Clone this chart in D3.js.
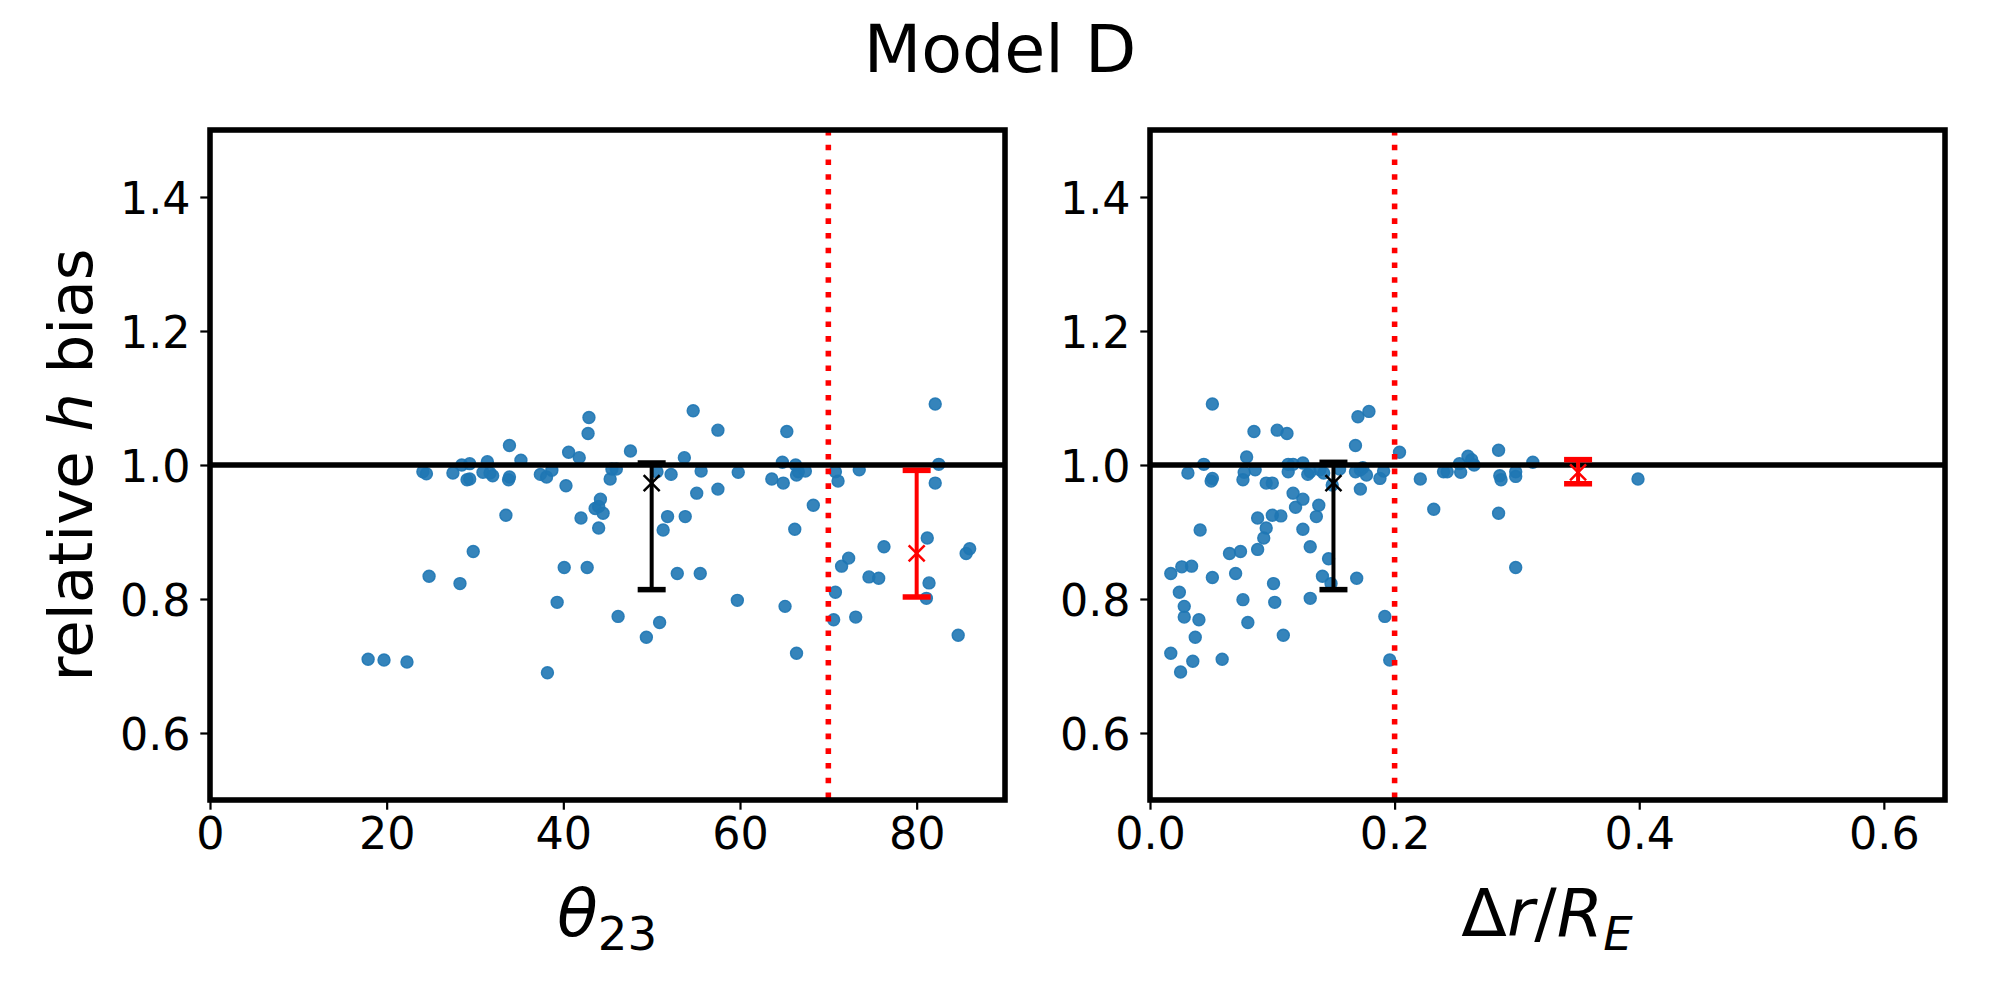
<!DOCTYPE html>
<html>
<head>
<meta charset="utf-8">
<script src="https://d3js.org/d3.v7.min.js"></script>
<style>
  body { margin: 0; background: white; }
  text { font-family: "DejaVu Sans", sans-serif; }
</style>
</head>
<body>
<script>
// Model D: relative h bias against theta23 and dr/R_E

var thetaVals = [17.9, 19.7, 22.3, 24.1, 24.5, 24.8, 27.5, 28.3, 28.5, 29.1, 29.4, 29.4, 29.8, 30.9, 31.4, 31.7, 32.0,
    33.5, 33.8, 33.9, 33.9, 35.2, 37.4, 38.1, 38.7, 38.2, 39.3, 40.1, 40.3, 40.6, 41.8, 42.0, 42.7, 42.8, 42.9,
    43.6, 44.0, 44.2, 44.5, 44.0, 45.3, 45.5, 46.0, 46.2, 47.6, 49.4, 50.9, 50.6, 51.3, 51.8, 52.2, 52.9, 53.7,
    53.8, 54.7, 55.1, 55.5, 55.6, 57.5, 57.5, 59.7, 59.8, 63.6, 64.8, 64.9, 65.1, 65.3, 66.2, 66.3, 66.4, 66.6,
    66.4, 67.4, 68.3, 70.8, 71.1, 70.8, 70.6, 71.5, 72.3, 73.1, 73.5, 74.6, 75.7, 76.3, 81.2, 81.4, 81.1, 82.1,
    82.5, 82.1, 85.6, 86.0, 84.7]
var thetaBias = [0.710, 0.709, 0.706, 0.990, 0.987, 0.834, 0.988, 0.823, 1.000, 0.978, 1.002, 0.979, 0.871, 0.989, 1.005, 0.988, 0.984,
    0.925, 0.978, 0.982, 1.029, 1.007, 0.986, 0.982, 0.992, 0.690, 0.795, 0.847, 0.969, 1.019, 1.011, 0.921, 0.847, 1.047, 1.071,
    0.935, 0.938, 0.949, 0.928, 0.906, 0.979, 0.994, 0.994, 0.774, 1.021, 0.743, 0.765, 0.990, 0.903, 0.923, 0.986, 0.838, 1.011,
    0.923, 1.081, 0.958, 0.838, 0.991, 1.052, 0.964, 0.798, 0.989, 0.979, 1.004, 0.973, 0.789, 1.050, 0.904, 1.000, 0.985, 0.990,
    0.719, 0.991, 0.940, 0.990, 0.976, 0.810, 0.769, 0.849, 0.861, 0.773, 0.993, 0.833, 0.831, 0.878, 0.891, 0.824, 0.801, 1.091,
    1.001, 0.973, 0.868, 0.875, 0.746]

var drVals = [0.051, 0.085, 0.104, 0.112, 0.170, 0.179, 0.168, 0.204, 0.285, 0.313, 0.044, 0.031, 0.051, 0.050,
    0.079, 0.077, 0.076, 0.086, 0.095, 0.100, 0.113, 0.117, 0.113, 0.125, 0.129, 0.131, 0.139, 0.142, 0.155,
    0.168, 0.172, 0.174, 0.177, 0.172, 0.188, 0.191, 0.117, 0.125, 0.119, 0.138, 0.136, 0.041, 0.088, 0.100,
    0.107, 0.095, 0.093, 0.125, 0.088, 0.065, 0.074, 0.131, 0.146, 0.017, 0.026, 0.034, 0.051, 0.070, 0.101,
    0.141, 0.148, 0.169, 0.024, 0.076, 0.102, 0.131, 0.028, 0.028, 0.040, 0.080, 0.192, 0.037, 0.109, 0.017,
    0.035, 0.059, 0.025, 0.196, 0.221, 0.232, 0.240, 0.243, 0.253, 0.254, 0.260, 0.263, 0.265, 0.285, 0.286,
    0.287, 0.299, 0.299, 0.299, 0.149, 0.399]
var drBias = [1.091, 1.050, 1.052, 1.047, 1.072, 1.080, 1.029, 1.019, 1.022, 1.004, 1.001, 0.988, 0.980, 0.976,
    1.012, 0.989, 0.978, 0.993, 0.973, 0.973, 1.001, 1.001, 0.990, 1.003, 0.986, 0.990, 0.993, 0.988, 0.994,
    0.990, 0.993, 0.996, 0.985, 0.964, 0.980, 0.991, 0.958, 0.949, 0.937, 0.940, 0.923, 0.903, 0.921, 0.925,
    0.924, 0.906, 0.891, 0.904, 0.874, 0.868, 0.871, 0.878, 0.860, 0.838, 0.848, 0.849, 0.832, 0.838, 0.823,
    0.834, 0.823, 0.831, 0.810, 0.799, 0.795, 0.801, 0.789, 0.773, 0.769, 0.765, 0.774, 0.743, 0.746, 0.719,
    0.707, 0.710, 0.691, 0.709, 0.979, 0.934, 0.990, 0.990, 1.002, 0.989, 1.013, 1.008, 1.000, 0.928, 0.984,
    0.978, 0.990, 0.983, 0.847, 0.970, 0.979]

// error bars: x position, mean, lower, upper
var thetaErr = [{x: 50, mean: 0.973, lo: 0.814, hi: 1.003, color: "black"},
                {x: 80, mean: 0.868, lo: 0.803, hi: 0.992, color: "red"}]
var drErr = [{x: 0.15, mean: 0.973, lo: 0.814, hi: 1.004, color: "black"},
             {x: 0.35, mean: 0.989, lo: 0.972, hi: 1.008, color: "red"}]

var yTicks = [0.6, 0.8, 1.0, 1.2, 1.4]
var thetaTicks = [0, 20, 40, 60, 80]
var drTicks = [0.0, 0.2, 0.4, 0.6]

var screen = {width: 2000, height: 1000}
var pt = 200 / 72

var svg = d3.select("body")
    .append("svg")
    .attr("width", screen.width)
    .attr("height", screen.height)

svg.append("text")
    .attr("x", 1000)
    .attr("y", 72)
    .attr("text-anchor", "middle")
    .style("font-size", (24 * pt) + "px")
    .text("Model D")

var yScale = d3.scaleLinear()
    .domain([0.5, 1.5])
    .range([800, 130])

var drawPanel = function(left, xDomain, xs, ys, errs, cut, ticks, fmt, id)
{
    var xScale = d3.scaleLinear()
        .domain(xDomain)
        .range([left, left + 795])

    var g = svg.append("g").attr("id", id)

    g.selectAll("circle")
        .data(xs)
        .enter()
        .append("circle")
        .attr("cx", function(d) {return xScale(d)})
        .attr("cy", function(d, i) {return yScale(ys[i])})
        .attr("r", 6)
        .attr("fill", "#1f77b4")
        .attr("fill-opacity", 0.9)
        .attr("stroke", "#1f77b4")
        .attr("stroke-opacity", 0.9)
        .attr("stroke-width", 1.4)

    // reference line at 1
    g.append("line")
        .attr("x1", xScale(xDomain[0]))
        .attr("x2", xScale(xDomain[1]))
        .attr("y1", yScale(1))
        .attr("y2", yScale(1))
        .attr("stroke", "black")
        .attr("stroke-width", 2 * pt)

    // cut line
    g.append("line")
        .attr("x1", xScale(cut))
        .attr("x2", xScale(cut))
        .attr("y1", yScale(1.5))
        .attr("y2", yScale(0.5))
        .attr("stroke", "red")
        .attr("stroke-width", 2 * pt)
        .attr("stroke-dasharray", (2 * pt) + " " + (2 * pt * 1.65))

    var eb = g.selectAll("g.err")
        .data(errs)
        .enter()
        .append("g")
        .attr("class", "err")

    eb.append("line")
        .attr("x1", function(d) {return xScale(d.x)})
        .attr("x2", function(d) {return xScale(d.x)})
        .attr("y1", function(d) {return yScale(d.lo)})
        .attr("y2", function(d) {return yScale(d.hi)})
        .attr("stroke", function(d) {return d.color})
        .attr("stroke-width", 4)

    eb.selectAll("line.cap")
        .data(function(d) {return [{x: d.x, y: d.lo, c: d.color}, {x: d.x, y: d.hi, c: d.color}]})
        .enter()
        .append("line")
        .attr("class", "cap")
        .attr("x1", function(d) {return xScale(d.x) - 14})
        .attr("x2", function(d) {return xScale(d.x) + 14})
        .attr("y1", function(d) {return yScale(d.y)})
        .attr("y2", function(d) {return yScale(d.y)})
        .attr("stroke", function(d) {return d.c})
        .attr("stroke-width", 5.5)

    eb.append("path")
        .attr("d", function(d)
        {
            var cx = xScale(d.x), cy = yScale(d.mean), s = 8
            return "M" + (cx - s) + "," + (cy - s) + "L" + (cx + s) + "," + (cy + s) +
                   "M" + (cx - s) + "," + (cy + s) + "L" + (cx + s) + "," + (cy - s)
        })
        .attr("stroke", function(d) {return d.color})
        .attr("stroke-width", 2.5)
        .attr("fill", "none")

    var xAxis = d3.axisBottom(xScale)
        .tickValues(ticks)
        .tickFormat(fmt)
        .tickSize(9.7)
        .tickPadding(9.7)

    var yAxis = d3.axisLeft(yScale)
        .tickValues(yTicks)
        .tickFormat(d3.format(".1f"))
        .tickSize(9.7)
        .tickPadding(9.7)

    var xg = g.append("g")
        .attr("transform", "translate(0,800)")
        .call(xAxis)
    var yg = g.append("g")
        .attr("transform", "translate(" + left + ",0)")
        .call(yAxis)

    ;[xg, yg].forEach(function(a)
    {
        a.select(".domain").remove()
        a.selectAll(".tick line").attr("stroke-width", 2.2)
        a.selectAll(".tick text")
            .style("font-size", (16 * pt) + "px")
            .attr("fill", "black")
    })
    xg.selectAll(".tick text").attr("dy", "0.66em")
    yg.selectAll(".tick text").attr("dy", "0.36em")

    // frame
    g.append("rect")
        .attr("x", left)
        .attr("y", 130)
        .attr("width", 795)
        .attr("height", 670)
        .attr("fill", "none")
        .attr("stroke", "black")
        .attr("stroke-width", 2 * pt)

    return xScale
}

drawPanel(210, [0, 90], thetaVals, thetaBias, thetaErr, 70, thetaTicks, d3.format("d"), "thetaPanel")
drawPanel(1150, [0, 0.65], drVals, drBias, drErr, 0.2, drTicks, d3.format(".1f"), "drPanel")

// axis labels
var ylab = svg.append("text")
    .attr("transform", "translate(92,465) rotate(-90)")
    .attr("text-anchor", "middle")
    .style("font-size", (22 * pt) + "px")
ylab.append("tspan").text("relative ")
ylab.append("tspan").style("font-style", "italic").text("h")
ylab.append("tspan").text(" bias")

var xlab1 = svg.append("text")
    .attr("x", 607)
    .attr("y", 936)
    .attr("text-anchor", "middle")
    .style("font-size", (24 * pt) + "px")
xlab1.append("tspan").style("font-style", "italic").text("θ")
xlab1.append("tspan").attr("dy", 14).style("font-size", (24 * pt * 0.7) + "px").text("23")

var xlab2 = svg.append("text")
    .attr("x", 1547)
    .attr("y", 936)
    .attr("text-anchor", "middle")
    .style("font-size", (24 * pt) + "px")
xlab2.append("tspan").text("Δ")
xlab2.append("tspan").style("font-style", "italic").text("r")
xlab2.append("tspan").text("/")
xlab2.append("tspan").style("font-style", "italic").text("R")
xlab2.append("tspan").attr("dy", 14).style("font-style", "italic").style("font-size", (24 * pt * 0.7) + "px").text("E")
</script>
</body>
</html>
